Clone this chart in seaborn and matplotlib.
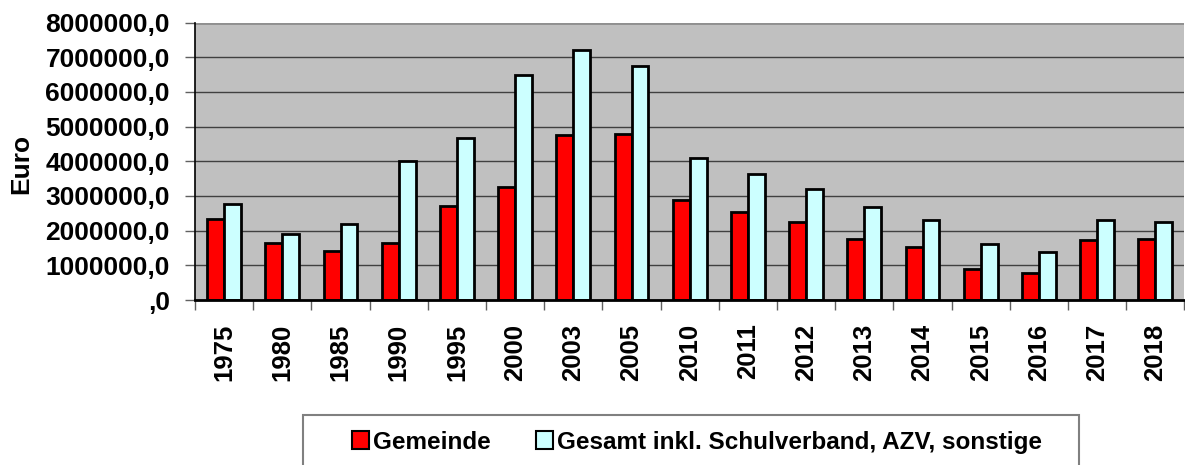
import matplotlib
matplotlib.use("Agg")
import matplotlib.pyplot as plt
from matplotlib.patches import Rectangle
from matplotlib.ticker import FuncFormatter, FixedLocator
import seaborn as sns
import pandas as pd
import numpy as np

years = ["1975", "1980", "1985", "1990", "1995", "2000", "2003", "2005", "2010",
         "2011", "2012", "2013", "2014", "2015", "2016", "2017", "2018"]
gemeinde = [2330000, 1630000, 1410000, 1640000, 2720000, 3260000, 4750000, 4800000,
            2870000, 2540000, 2240000, 1760000, 1520000, 890000, 770000, 1720000, 1760000]
gesamt = [2760000, 1910000, 2180000, 4020000, 4680000, 6490000, 7200000, 6760000,
          4080000, 3640000, 3190000, 2680000, 2300000, 1620000, 1390000, 2320000, 2240000]
series_names = ["Gemeinde", "Gesamt inkl. Schulverband, AZV, sonstige"]
colors = ["#FF0000", "#CCFFFF"]

df = pd.DataFrame({
    "Jahr": years * 2,
    "Wert": gemeinde + gesamt,
    "Serie": [series_names[0]] * len(years) + [series_names[1]] * len(years),
})

sns.set_theme(style="white")
plt.rcParams["font.family"] = ["Liberation Sans", "DejaVu Sans"]
plt.rcParams["font.weight"] = "bold"
plt.rcParams["text.color"] = "black"
plt.rcParams["axes.labelcolor"] = "black"
plt.rcParams["xtick.labelcolor"] = "black"
plt.rcParams["ytick.labelcolor"] = "black"

fig = plt.figure(figsize=(11.85, 4.65), dpi=100)
ax = fig.add_axes([195 / 1185, 1 - 300 / 465, 1 - 195 / 1185 - 0.0005, (300 - 22.5) / 465])
ax.set_facecolor("#C0C0C0")

sns.barplot(data=df, x="Jahr", y="Wert", hue="Serie", palette=colors, width=0.58,
            edgecolor="black", linewidth=2, ax=ax, legend=True, errorbar=None,
            saturation=1)

ax.set_ylim(0, 8000000)
ax.set_xlim(-0.5, len(years) - 0.5)
ax.set_yticks(np.arange(0, 8000001, 1000000))
ax.yaxis.set_major_formatter(FuncFormatter(lambda v, p: ",0" if v == 0 else f"{int(v)},0"))
ax.grid(axis="y", color="#404040", linewidth=1)
ax.set_axisbelow(True)

ax.tick_params(axis="y", which="major", length=7, width=1, color="#606060",
               direction="out", left=True, pad=11, labelsize=19, labelcolor="black")
for lbl in ax.get_yticklabels():
    lbl.set_fontweight("bold")

ax.tick_params(axis="x", which="major", length=0, pad=17, labelsize=18.5, labelrotation=90,
               labelcolor="black")
ax.xaxis.set_minor_locator(FixedLocator(np.arange(-0.5, len(years), 1.0)))
ax.tick_params(axis="x", which="minor", length=7, width=1, color="#606060",
               direction="out", bottom=True)
for lbl in ax.get_xticklabels():
    lbl.set_fontweight("bold")

ax.set_xlabel("")
ax.set_ylabel("Euro", fontsize=19, fontweight="bold", color="black")
ax.yaxis.set_label_coords(-0.1636, 0.49)

for s in ["left", "bottom"]:
    ax.spines[s].set_color("black")
ax.spines["left"].set_linewidth(1.2)
ax.spines["bottom"].set_linewidth(2)
ax.spines["top"].set_visible(False)
ax.spines["right"].set_visible(False)
ax.axhline(8000000, color="#909090", linewidth=2, zorder=1)

handles, labels = ax.get_legend_handles_labels()
ax.get_legend().remove()
for h in handles:
    h.set_linewidth(1.5)
    h.set_edgecolor("black")

fig.patches.append(Rectangle((303 / 1185, -0.05), (1079 - 303) / 1185, 0.05 + (465 - 415) / 465,
                             transform=fig.transFigure, facecolor="white",
                             edgecolor="#808080", linewidth=1.5, zorder=0))
fig.legend(handles, labels, loc="center", bbox_to_anchor=(697 / 1185, 1 - 442 / 465),
           ncol=2, frameon=False, prop={"size": 17.5, "weight": "bold"},
           handlelength=0.7, handleheight=0.7, handletextpad=0.15, columnspacing=1.9)

fig.savefig("out.png", dpi=100)
